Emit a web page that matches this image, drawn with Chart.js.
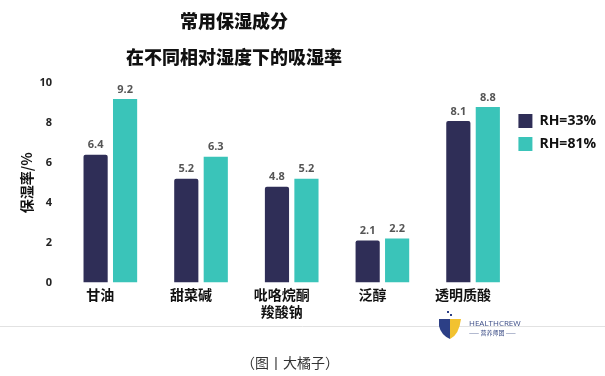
<!DOCTYPE html>
<html>
<head>
<meta charset="utf-8">
<script src="https://cdn.jsdelivr.net/npm/chart.js@4.4.1/dist/chart.umd.min.js"></script>
<style>
  html, body { margin: 0; padding: 0; background: #ffffff; }
  #wrap { width: 605px; height: 376px; position: relative; }
</style>
</head>
<body>
<div id="wrap"><canvas id="humidityChart" width="605" height="376"></canvas></div>
<script>
// chart data
const categories = ['甘油', '甜菜碱', ['吡咯烷酮', '羧酸钠'], '泛醇', '透明质酸'];
const rh33 = [6.4, 5.2, 4.8, 2.1, 8.1];
const rh81 = [9.2, 6.3, 5.2, 2.2, 8.8];
const seriesNames = ['RH=33%', 'RH=81%'];
const yTicks = [0, 2, 4, 6, 8, 10];
const titleLines = ['常用保湿成分', '在不同相对湿度下的吸湿率'];
const sourceNote = '（图丨大橘子）';

const cjk = '"Noto Sans CJK SC", "Noto Sans", sans-serif';
const num = '"Open Sans", "Noto Sans", sans-serif';

// headline drawn above the plot
const headingPlugin = {
    id: 'heading',
    afterDraw(chart) {
        const ctx = chart.ctx;
        ctx.save();
        ctx.fillStyle = '#111111';
        ctx.font = '900 18px ' + cjk;
        ctx.textAlign = 'center';
        ctx.textBaseline = 'middle';
        ctx.fillText(titleLines[0], 234, 21);
        ctx.fillText(titleLines[1], 234, 57);
        ctx.restore();
    }
};

// value labels over each bar
const valueLabels = {
    id: 'valueLabels',
    afterDatasetsDraw(chart) {
        const ctx = chart.ctx;
        ctx.save();
        ctx.font = 'bold 11px ' + num;
        ctx.fillStyle = '#555555';
        ctx.textAlign = 'center';
        ctx.textBaseline = 'bottom';
        chart.data.datasets.forEach((ds, i) => {
            chart.getDatasetMeta(i).data.forEach((bar, j) => {
                ctx.fillText(ds.data[j].toFixed(1), bar.x, bar.y - 4);
            });
        });
        ctx.restore();
    }
};

// pull the legend boxes flush with the plot edge
const legendNudge = {
    id: 'legendNudge',
    afterLayout(chart) {
        chart.legend.left -= 9;
        chart.legend.right -= 9;
    }
};

// rule, logo and source line at the bottom
const footerPlugin = {
    id: 'footer',
    afterDraw(chart) {
        const ctx = chart.ctx;
        ctx.save();
        ctx.strokeStyle = '#e2e2e2';
        ctx.lineWidth = 1;
        ctx.beginPath();
        ctx.moveTo(0, 326.5);
        ctx.lineTo(605, 326.5);
        ctx.stroke();

        // little shield logo
        ctx.fillStyle = '#2c3f86';
        ctx.beginPath();
        ctx.moveTo(439, 319);
        ctx.lineTo(450, 319);
        ctx.lineTo(450, 339);
        ctx.quadraticCurveTo(441, 335, 439, 326);
        ctx.closePath();
        ctx.fill();
        ctx.fillStyle = '#f2c230';
        ctx.beginPath();
        ctx.moveTo(450, 319);
        ctx.lineTo(461, 319);
        ctx.quadraticCurveTo(459, 335, 450, 339);
        ctx.closePath();
        ctx.fill();
        ctx.fillStyle = '#2c3f86';
        ctx.fillRect(447, 311, 2, 2);
        ctx.fillRect(450, 314, 2, 2);

        ctx.fillStyle = '#3b4c86';
        ctx.font = '8px ' + num;
        ctx.textAlign = 'left';
        ctx.textBaseline = 'middle';
        ctx.fillText('HEALTHCREW', 469, 324);
        ctx.font = '6px ' + cjk;
        ctx.fillText('—— 营养师团 ——', 469, 333);

        ctx.fillStyle = '#333333';
        ctx.font = '14px ' + cjk;
        ctx.textAlign = 'center';
        ctx.fillText(sourceNote, 290, 363);
        ctx.restore();
    }
};

new Chart(document.getElementById('humidityChart'), {
    type: 'bar',
    data: {
        labels: categories,
        datasets: [
            { label: seriesNames[0], data: rh33, backgroundColor: '#2f2e57', borderRadius: 2 },
            { label: seriesNames[1], data: rh81, backgroundColor: '#3ac4b9', borderRadius: 0 }
        ]
    },
    options: {
        responsive: false,
        animation: false,
        categoryPercentage: 0.65,
        barPercentage: 0.82,
        layout: { padding: { top: 83, left: 18, right: -10, bottom: 52 } },
        plugins: {
            title: { display: false },
            tooltip: { enabled: false },
            legend: {
                position: 'right',
                align: 'start',
                title: { display: true, text: '', padding: 5, font: { size: 10 } },
                labels: {
                    boxWidth: 14,
                    boxHeight: 14,
                    padding: 9,
                    color: '#111111',
                    font: { family: num, size: 14, weight: 'bold' }
                }
            }
        },
        scales: {
            x: {
                grid: { display: false, drawTicks: false },
                border: { display: false },
                ticks: {
                    padding: 4,
                    labelOffset: -10,
                    color: '#111111',
                    font: { family: cjk, size: 14, weight: 'bold' }
                }
            },
            y: {
                min: 0,
                max: 10,
                grid: { display: false, drawTicks: false },
                border: { display: false },
                afterBuildTicks(scale) {
                    scale.ticks = yTicks.map(v => ({ value: v }));
                },
                afterFit(scale) {
                    scale.width = 47;
                },
                ticks: {
                    padding: 13,
                    color: '#222222',
                    font: { family: num, size: 11, weight: 'bold' }
                },
                title: {
                    display: true,
                    text: '保湿率/%',
                    color: '#111111',
                    padding: { top: 0, bottom: 4 },
                    font: { family: cjk, size: 14, weight: 'bold' }
                }
            }
        }
    },
    plugins: [headingPlugin, valueLabels, legendNudge, footerPlugin]
});
</script>
</body>
</html>
